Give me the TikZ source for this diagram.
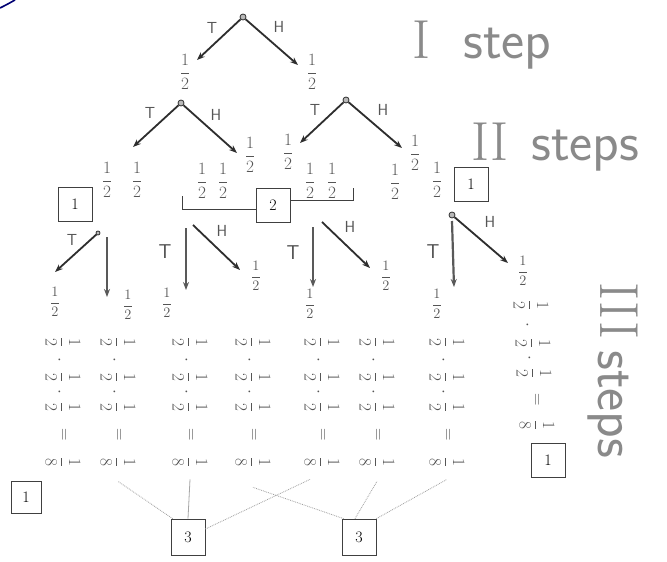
\documentclass[tikz,border=0pt]{standalone}
\usepackage{amsmath}
\usetikzlibrary{arrows.meta}
\definecolor{pencil}{HTML}{555555}
\definecolor{ink}{HTML}{2E2E2E}
\definecolor{faint}{HTML}{8A8A8A}
\begin{document}
\begin{tikzpicture}[x=1pt,y=-1pt,
  arr/.style={-{Stealth[length=8pt,width=6pt]}, line width=1.8pt, draw=ink},
  varr/.style={-{Stealth[length=8pt,width=6pt]}, line width=2.2pt, draw=black!65},
  root/.style={circle, fill=gray!55, draw=ink, line width=0.8pt, inner sep=0pt, minimum size=6pt},
  frac/.style={text=pencil, font=\fontsize{18}{18}\selectfont, inner sep=0pt},
  sfrac/.style={text=pencil, font=\fontsize{15}{15}\selectfont, inner sep=0pt},
  rfrac/.style={text=pencil, font=\fontsize{16.5}{16.5}\selectfont, inner sep=0pt, rotate=-90},
  lab/.style={text=pencil, font=\sffamily\fontsize{16}{16}\selectfont, inner sep=0pt},
  biglab/.style={text=black!70, font=\sffamily\fontsize{20}{20}\selectfont, inner sep=0pt},
  numbox/.style={draw=black!75, line width=0.7pt, minimum width=34pt, minimum height=34pt, font=\fontsize{16}{16}\selectfont, inner sep=0pt},
  steplab/.style={text=faint, inner sep=0pt, font=\fontsize{55}{55}\selectfont},
  link/.style={draw=gray!75, line width=0.8pt, densely dotted},
  linksolid/.style={draw=gray!70, line width=0.8pt},
]
\useasboundingbox (0,0) rectangle (667,562);
\fill[white] (0,0) rectangle (667,562);
% corner arc
\draw[blue!45!black, line width=1.6pt] (0,8) .. controls (6,5) .. (15,0);

% step labels
\node[steplab, anchor=base] (s1n) at (422,58) {\rmfamily I};
\node[steplab, anchor=base west] (s1w) at (463,58) {\sffamily step};
\node[steplab, anchor=base] (s2n) at (490,160) {\rmfamily II};
\node[steplab, anchor=base west] (s2w) at (531,160) {\sffamily steps};
\node[steplab, anchor=base west, rotate=-90] (s3n) at (600,282) {\rmfamily III};
\node[steplab, anchor=base west, rotate=-90] (s3w) at (598,350) {\sffamily steps};

% level 1
\node[root] (r0) at (243,17) {};
\coordinate (t1L) at (197,60);
\coordinate (t1R) at (298,65);
\draw[arr] (r0) -- (t1L);
\draw[arr] (r0) -- (t1R);
\node[lab] (l1T) at (212,28) {T};
\node[lab] (l1H) at (279,27) {H};
\node[frac] (f1L) at (185,72) {$\dfrac12$};
\node[frac] (f1R) at (312,72) {$\dfrac12$};

% level 2
\node[root] (d1) at (181,103) {};
\node[root] (d2) at (346,100) {};
\coordinate (t2a) at (133,147);
\coordinate (t2b) at (237,153);
\coordinate (t2c) at (300,143);
\coordinate (t2d) at (402,148);
\draw[arr] (d1) -- (t2a);
\draw[arr] (d1) -- (t2b);
\draw[arr] (d2) -- (t2c);
\draw[arr] (d2) -- (t2d);
\node[lab] (l2T1) at (150,113) {T};
\node[lab] (l2H1) at (216,115) {H};
\node[lab] (l2T2) at (315,110) {T};
\node[lab] (l2H2) at (383,110) {H};
\node[frac] (f2a) at (250,155) {$\dfrac12$};
\node[frac] (f2b) at (288,152) {$\dfrac12$};
\node[frac] (f2c) at (415,153) {$\dfrac12$};
\foreach \n/\x/\y in {1/107/180,2/137/180,3/202/181,4/223/181,5/310/181,6/332/181,7/395/182,8/437/180}
  \node[frac] (p\n) at (\x,\y) {$\dfrac12$};

% boxes, level 2
\node[numbox] (bx1) at (75,204) {1};
\node[numbox] (bx2) at (273,205) {2};
\node[numbox] (bx3) at (471,184) {1};
\coordinate (brL) at (182,196);
\coordinate (brR) at (353,188);
\draw[black!75, line width=0.9pt] (brL) |- ([yshift=-4pt]bx2.west);
\draw[black!75, line width=0.9pt] (brR) |- ([yshift=5pt]bx2.east);

% level 3
\node[root, minimum size=4pt] (nA) at (98,233) {};
\node[root] (nD) at (452,215) {};
\coordinate (tA1) at (55,272);
\coordinate (sA2) at (107,237);
\coordinate (tA2) at (107,297);
\draw[arr] (nA) -- (tA1);
\draw[varr] (sA2) -- (tA2);
\node[lab] (l3TA) at (72,240) {T};
\coordinate (sB1) at (186,228);
\coordinate (tB1) at (186,290);
\coordinate (sB2) at (193,225);
\coordinate (tB2) at (240,270);
\draw[varr] (sB1) -- (tB1);
\draw[arr] (sB2) -- (tB2);
\node[biglab] (l3TB) at (165,252) {T};
\node[lab] (l3HB) at (222,231) {H};
\coordinate (sC1) at (313,227);
\coordinate (tC1) at (313,287);
\coordinate (sC2) at (322,222);
\coordinate (tC2) at (370,268);
\draw[varr] (sC1) -- (tC1);
\draw[arr] (sC2) -- (tC2);
\node[biglab] (l3TC) at (293,253) {T};
\node[lab] (l3HC) at (350,227) {H};
\coordinate (tD1) at (454,287);
\coordinate (tD2) at (508,263);
\draw[varr] ([yshift=-6pt]nD.center) -- (tD1);
\draw[arr] (nD) -- (tD2);
\node[biglab] (l3TD) at (433,252) {T};
\node[lab] (l3HD) at (490,222) {H};
\foreach \n/\x/\y in {1/55/302,2/128/305,3/256/276,4/167/303,5/386/276,6/310/304,7/523/271,8/437/304}
  \node[sfrac] (g\n) at (\x,\y) {$\dfrac12$};

% product columns
\foreach \i/\x in {1/63,2/118,3/190,4/253,5/322,6/377,7/447}{
  \node[rfrac] (c\i-a) at (\x,342) {$\dfrac12$};
  \node[rfrac] (c\i-p) at (\x-4,360) {$\cdot$};
  \node[rfrac] (c\i-b) at (\x,377) {$\dfrac12$};
  \node[rfrac] (c\i-q) at (\x-4,392) {$\cdot$};
  \node[rfrac] (c\i-c) at (\x,407) {$\dfrac12$};
  \node[rfrac] (c\i-d) at (\x,435) {$=$};
  \node[rfrac] (c\i-e) at (\x,462) {$\dfrac18$};
}
\node[rfrac] (c8-a) at (531,305) {$\dfrac12$};
\node[rfrac] (c8-p) at (527,325) {$\cdot$};
\node[rfrac] (c8-b) at (533,343) {$\dfrac12$};
\node[rfrac] (c8-q) at (529,358) {$\cdot$};
\node[rfrac] (c8-c) at (534,373) {$\dfrac12$};
\node[rfrac] (c8-d) at (536,400) {$=$};
\node[rfrac] (c8-e) at (537,425) {$\dfrac18$};

% bottom boxes
\node[numbox, minimum width=30pt, minimum height=32pt] (bx4) at (26,497) {1};
\node[numbox] (bx5) at (548,460) {1};
\node[numbox, minimum height=36pt] (b3l) at (188,537) {3};
\node[numbox, minimum height=36pt] (b3r) at (359,537) {3};

% links
\draw[link] ([xshift=2pt]b3l.north west) -- ([yshift=-14pt]c2-e.east);
\draw[linksolid] (b3l.north) -- ([yshift=-12pt]c3-e.east);
\draw[link] ([yshift=8pt]b3l.east) -- ([xshift=-12pt,yshift=-12pt]c5-e.east);
\draw[link] ([xshift=2pt]b3r.north west) -- ([yshift=-20pt]c4-e.east);
\draw[link] ([xshift=-4pt]b3r.north) -- ([yshift=-14pt]c6-e.east);
\draw[link] (b3r.north east) -- ([yshift=-12pt]c7-e.east);
\end{tikzpicture}
\end{document}
